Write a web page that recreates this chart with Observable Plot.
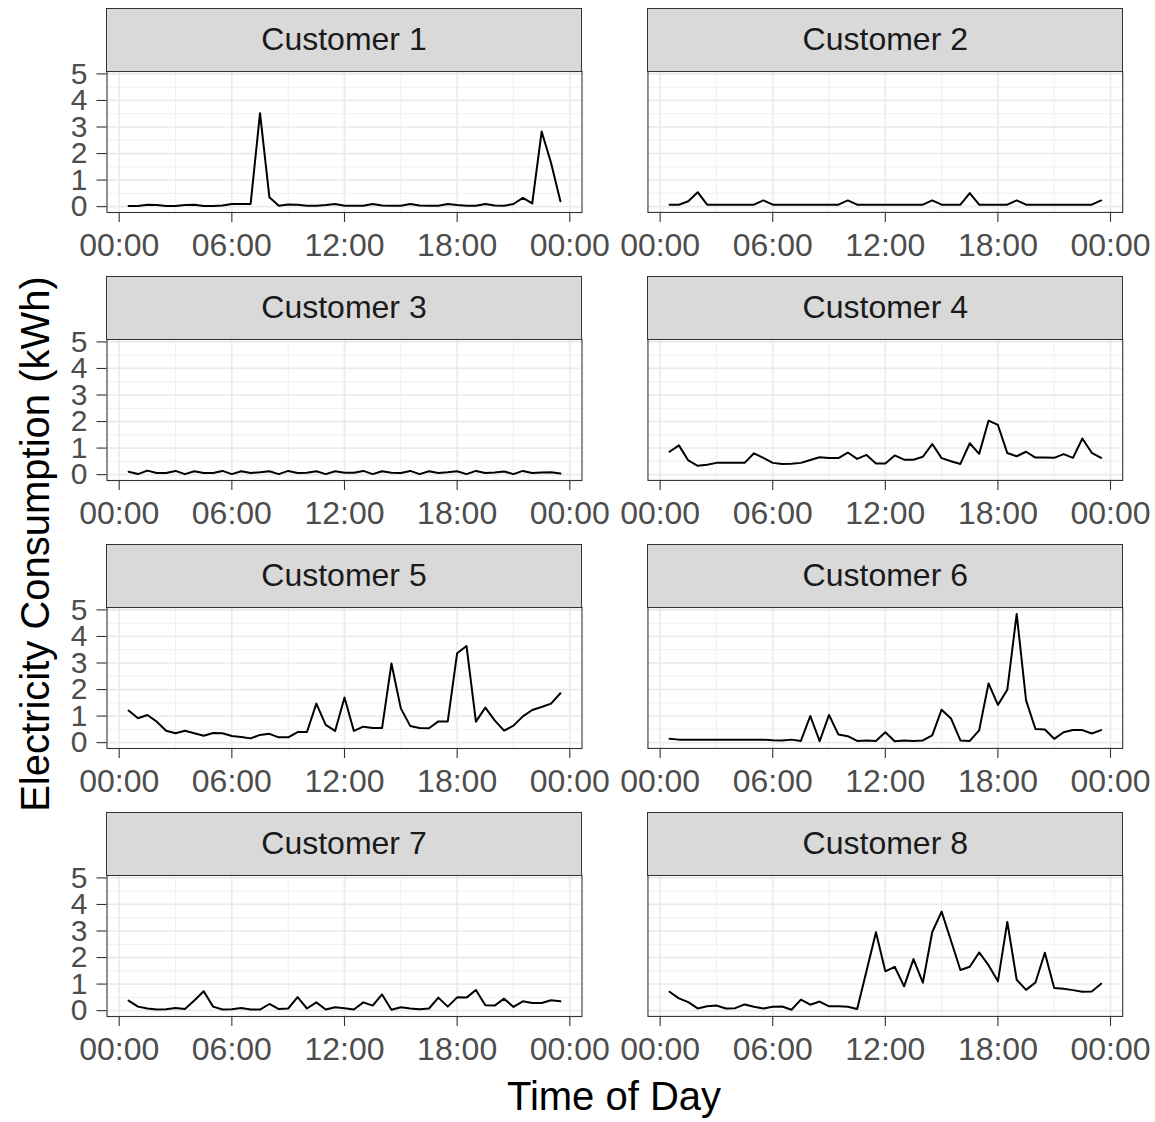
<!DOCTYPE html>
<html>
<head>
<meta charset="utf-8">
<script src="https://cdn.jsdelivr.net/npm/d3@7"></script>
<script src="https://cdn.jsdelivr.net/npm/@observablehq/plot@0.6"></script>
<style>
  html, body { margin: 0; padding: 0; background: #ffffff; }
  #chart { position: relative; width: 1155px; height: 1122px; overflow: hidden; background: #ffffff;
           font-family: "Liberation Sans", Arial, Helvetica, sans-serif; }
  .strip { position: absolute; box-sizing: border-box; background: #D9D9D9; border: 1px solid #333333;
           color: #1A1A1A; font-size: 32px; display: flex; align-items: center; justify-content: center; }
  .panel { position: absolute; }
  .ytitle { position: absolute; font-size: 40px; line-height: 40px; color: #000; white-space: nowrap;
            transform: translate(-50%, -50%) rotate(-90deg); }
  .xtitle { position: absolute; font-size: 40px; line-height: 40px; color: #000; white-space: nowrap;
            transform: translateX(-50%); }
</style>
</head>
<body>
<div id="chart"></div>
<script>
// ---------- data ----------
const customers = ["Customer 1", "Customer 2", "Customer 3", "Customer 4",
                   "Customer 5", "Customer 6", "Customer 7", "Customer 8"];

// time of day in hours (half-hourly readings)
const times = [0.5, 1, 1.5, 2, 2.5, 3, 3.5, 4, 4.5, 5, 5.5, 6, 6.5, 7, 7.5, 8,
               8.5, 9, 9.5, 10, 10.5, 11, 11.5, 12, 12.5, 13, 13.5, 14, 14.5, 15, 15.5, 16,
               16.5, 17, 17.5, 18, 18.5, 19, 19.5, 20, 20.5, 21, 21.5, 22, 22.5, 23, 23.5];

const customer1 = [0.02, 0.02, 0.07, 0.06, 0.02, 0.02, 0.06, 0.07, 0.02, 0.02,
                   0.04, 0.10, 0.10, 0.10, 3.52, 0.35, 0.03, 0.08, 0.07, 0.03,
                   0.03, 0.06, 0.10, 0.03, 0.03, 0.03, 0.10, 0.04, 0.03, 0.03,
                   0.10, 0.04, 0.03, 0.03, 0.10, 0.06, 0.03, 0.03, 0.10, 0.04,
                   0.03, 0.10, 0.33, 0.12, 2.83, 1.65, 0.20];
const customer2 = [0.07, 0.07, 0.20, 0.54, 0.07, 0.07, 0.07, 0.07, 0.07, 0.07,
                   0.23, 0.07, 0.07, 0.07, 0.07, 0.07, 0.07, 0.07, 0.07, 0.23,
                   0.07, 0.07, 0.07, 0.07, 0.07, 0.07, 0.07, 0.07, 0.23, 0.07,
                   0.07, 0.07, 0.51, 0.07, 0.07, 0.07, 0.07, 0.23, 0.07, 0.07,
                   0.07, 0.07, 0.07, 0.07, 0.07, 0.07, 0.23];
const customer3 = [0.11, 0.02, 0.15, 0.06, 0.06, 0.14, 0.02, 0.13, 0.06, 0.06,
                   0.14, 0.02, 0.13, 0.06, 0.09, 0.13, 0.02, 0.14, 0.06, 0.07,
                   0.13, 0.02, 0.13, 0.07, 0.07, 0.14, 0.02, 0.13, 0.07, 0.06,
                   0.14, 0.02, 0.13, 0.06, 0.09, 0.13, 0.02, 0.14, 0.06, 0.08,
                   0.12, 0.02, 0.14, 0.06, 0.08, 0.09, 0.04];
const customer4 = [0.86, 1.10, 0.53, 0.33, 0.37, 0.44, 0.44, 0.44, 0.44, 0.80,
                   0.63, 0.44, 0.40, 0.41, 0.44, 0.55, 0.65, 0.62, 0.62, 0.83,
                   0.59, 0.74, 0.42, 0.42, 0.72, 0.56, 0.56, 0.67, 1.15, 0.62,
                   0.50, 0.40, 1.18, 0.78, 2.03, 1.87, 0.81, 0.69, 0.86, 0.64,
                   0.64, 0.63, 0.77, 0.63, 1.36, 0.82, 0.63];
const customer5 = [1.21, 0.92, 1.04, 0.79, 0.45, 0.35, 0.45, 0.35, 0.26, 0.36,
                   0.35, 0.25, 0.21, 0.16, 0.29, 0.33, 0.20, 0.20, 0.40, 0.40,
                   1.47, 0.67, 0.44, 1.70, 0.44, 0.60, 0.55, 0.55, 2.98, 1.29,
                   0.63, 0.55, 0.54, 0.80, 0.80, 3.37, 3.64, 0.79, 1.32, 0.84,
                   0.45, 0.64, 0.99, 1.23, 1.34, 1.47, 1.86];
const customer6 = [0.14, 0.11, 0.11, 0.11, 0.11, 0.11, 0.11, 0.11, 0.11, 0.11,
                   0.11, 0.09, 0.08, 0.11, 0.06, 1.00, 0.05, 1.04, 0.30, 0.24,
                   0.06, 0.08, 0.06, 0.39, 0.05, 0.08, 0.06, 0.08, 0.27, 1.24,
                   0.91, 0.08, 0.06, 0.46, 2.23, 1.42, 1.99, 4.85, 1.59, 0.51,
                   0.49, 0.14, 0.39, 0.47, 0.47, 0.34, 0.47];
const customer7 = [0.38, 0.15, 0.08, 0.04, 0.05, 0.10, 0.06, 0.38, 0.73, 0.15,
                   0.04, 0.05, 0.10, 0.04, 0.04, 0.25, 0.06, 0.08, 0.51, 0.08,
                   0.31, 0.04, 0.13, 0.09, 0.04, 0.31, 0.19, 0.61, 0.03, 0.13,
                   0.08, 0.05, 0.08, 0.49, 0.15, 0.50, 0.49, 0.78, 0.20, 0.19,
                   0.45, 0.14, 0.35, 0.29, 0.29, 0.39, 0.35];
const customer8 = [0.71, 0.46, 0.32, 0.08, 0.16, 0.19, 0.08, 0.09, 0.23, 0.14,
                   0.08, 0.14, 0.15, 0.03, 0.41, 0.22, 0.34, 0.16, 0.16, 0.14,
                   0.06, 1.50, 2.95, 1.48, 1.65, 0.91, 1.94, 1.05, 2.96, 3.73,
                   2.63, 1.53, 1.65, 2.19, 1.71, 1.10, 3.34, 1.16, 0.78, 1.06,
                   2.18, 0.85, 0.82, 0.77, 0.71, 0.72, 1.01];

const series = [customer1, customer2, customer3, customer4,
                customer5, customer6, customer7, customer8];

// axis ticks / labels
const xTicks = [0, 6, 12, 18, 24];
const xTickLabels = ["00:00", "06:00", "12:00", "18:00", "00:00"];
const xMinorTicks = [3, 9, 15, 21];
const yTicks = [0, 1, 2, 3, 4, 5];
const yMinorTicks = [0.5, 1.5, 2.5, 3.5, 4.5];

const xTitle = "Time of Day";
const yTitle = "Electricity Consumption (kWh)";

// ---------- scales shared by all panels (ggplot-style 5% expansion) ----------
const expand = (lo, hi) => { const e = (hi - lo) * 0.05; return [lo - e, hi + e]; };
const xDomain = expand(d3.min(times), d3.max(times));
const allValues = series.flat();
const yDomain = expand(d3.min(allValues), d3.max(allValues));

// ---------- layout ----------
const chart = document.getElementById("chart");
const FONT = "'Liberation Sans', Arial, Helvetica, sans-serif";
const colOffset = [0, 541.3];
const panelTop0 = 71.3, rowPitch = 268;
const svgW = 614, mL = 106.5, mR = 32.5, mT = 10, mB = 56, panelH = 141;

customers.forEach((name, k) => {
  const col = k % 2, row = Math.floor(k / 2);
  const table = times.map((t, i) => ({ time: t, kWh: series[k][i] }));
  const panelTop = panelTop0 + row * rowPitch;

  const marks = [
    Plot.ruleX(xMinorTicks, { stroke: "#EBEBEB", strokeWidth: 0.8 }),
    Plot.ruleY(yMinorTicks, { stroke: "#EBEBEB", strokeWidth: 0.8 }),
    Plot.ruleX(xTicks, { stroke: "#EBEBEB", strokeWidth: 1.7 }),
    Plot.ruleY(yTicks, { stroke: "#EBEBEB", strokeWidth: 1.7 }),
    Plot.line(table, { x: "time", y: "kWh", stroke: "#000000", strokeWidth: 2 }),
    Plot.frame({ stroke: "#333333", strokeWidth: 1.1 }),
    Plot.axisX({ ticks: xTicks, tickFormat: d => xTickLabels[xTicks.indexOf(d)],
                 tickSize: 10, tickPadding: 10.5, stroke: "#333333", strokeWidth: 1.1,
                 fill: "#4D4D4D", fontSize: 32, label: null })
  ];
  if (col === 0) {
    marks.push(Plot.axisY({ ticks: yTicks, tickFormat: d => String(d),
                            tickSize: 10, tickPadding: 9.5, stroke: "#333333", strokeWidth: 1.1,
                            fill: "#4D4D4D", fontSize: 30, label: null }));
  }

  const svg = Plot.plot({
    width: svgW,
    height: mT + panelH + mB,
    marginLeft: mL, marginRight: mR, marginTop: mT, marginBottom: mB,
    style: { background: "transparent", overflow: "visible", fontFamily: FONT, fontSize: "32px" },
    x: { domain: xDomain },
    y: { domain: yDomain, axis: col === 0 ? undefined : null },
    marks
  });
  const holder = document.createElement("div");
  holder.className = "panel";
  holder.style.left = colOffset[col] + "px";
  holder.style.top = (panelTop - mT) + "px";
  holder.appendChild(svg);
  chart.appendChild(holder);

  const strip = document.createElement("div");
  strip.className = "strip";
  strip.style.left = (colOffset[col] + mL - 0.5) + "px";
  strip.style.width = (svgW - mL - mR + 1) + "px";
  strip.style.top = (panelTop - 63.5) + "px";
  strip.style.height = "64px";
  strip.textContent = name;
  chart.appendChild(strip);
});

const yt = document.createElement("div");
yt.className = "ytitle";
yt.style.left = "35px";
yt.style.top = "544px";
yt.textContent = yTitle;
chart.appendChild(yt);

const xt = document.createElement("div");
xt.className = "xtitle";
xt.style.left = "614px";
xt.style.top = "1076px";
xt.textContent = xTitle;
chart.appendChild(xt);
</script>
</body>
</html>
